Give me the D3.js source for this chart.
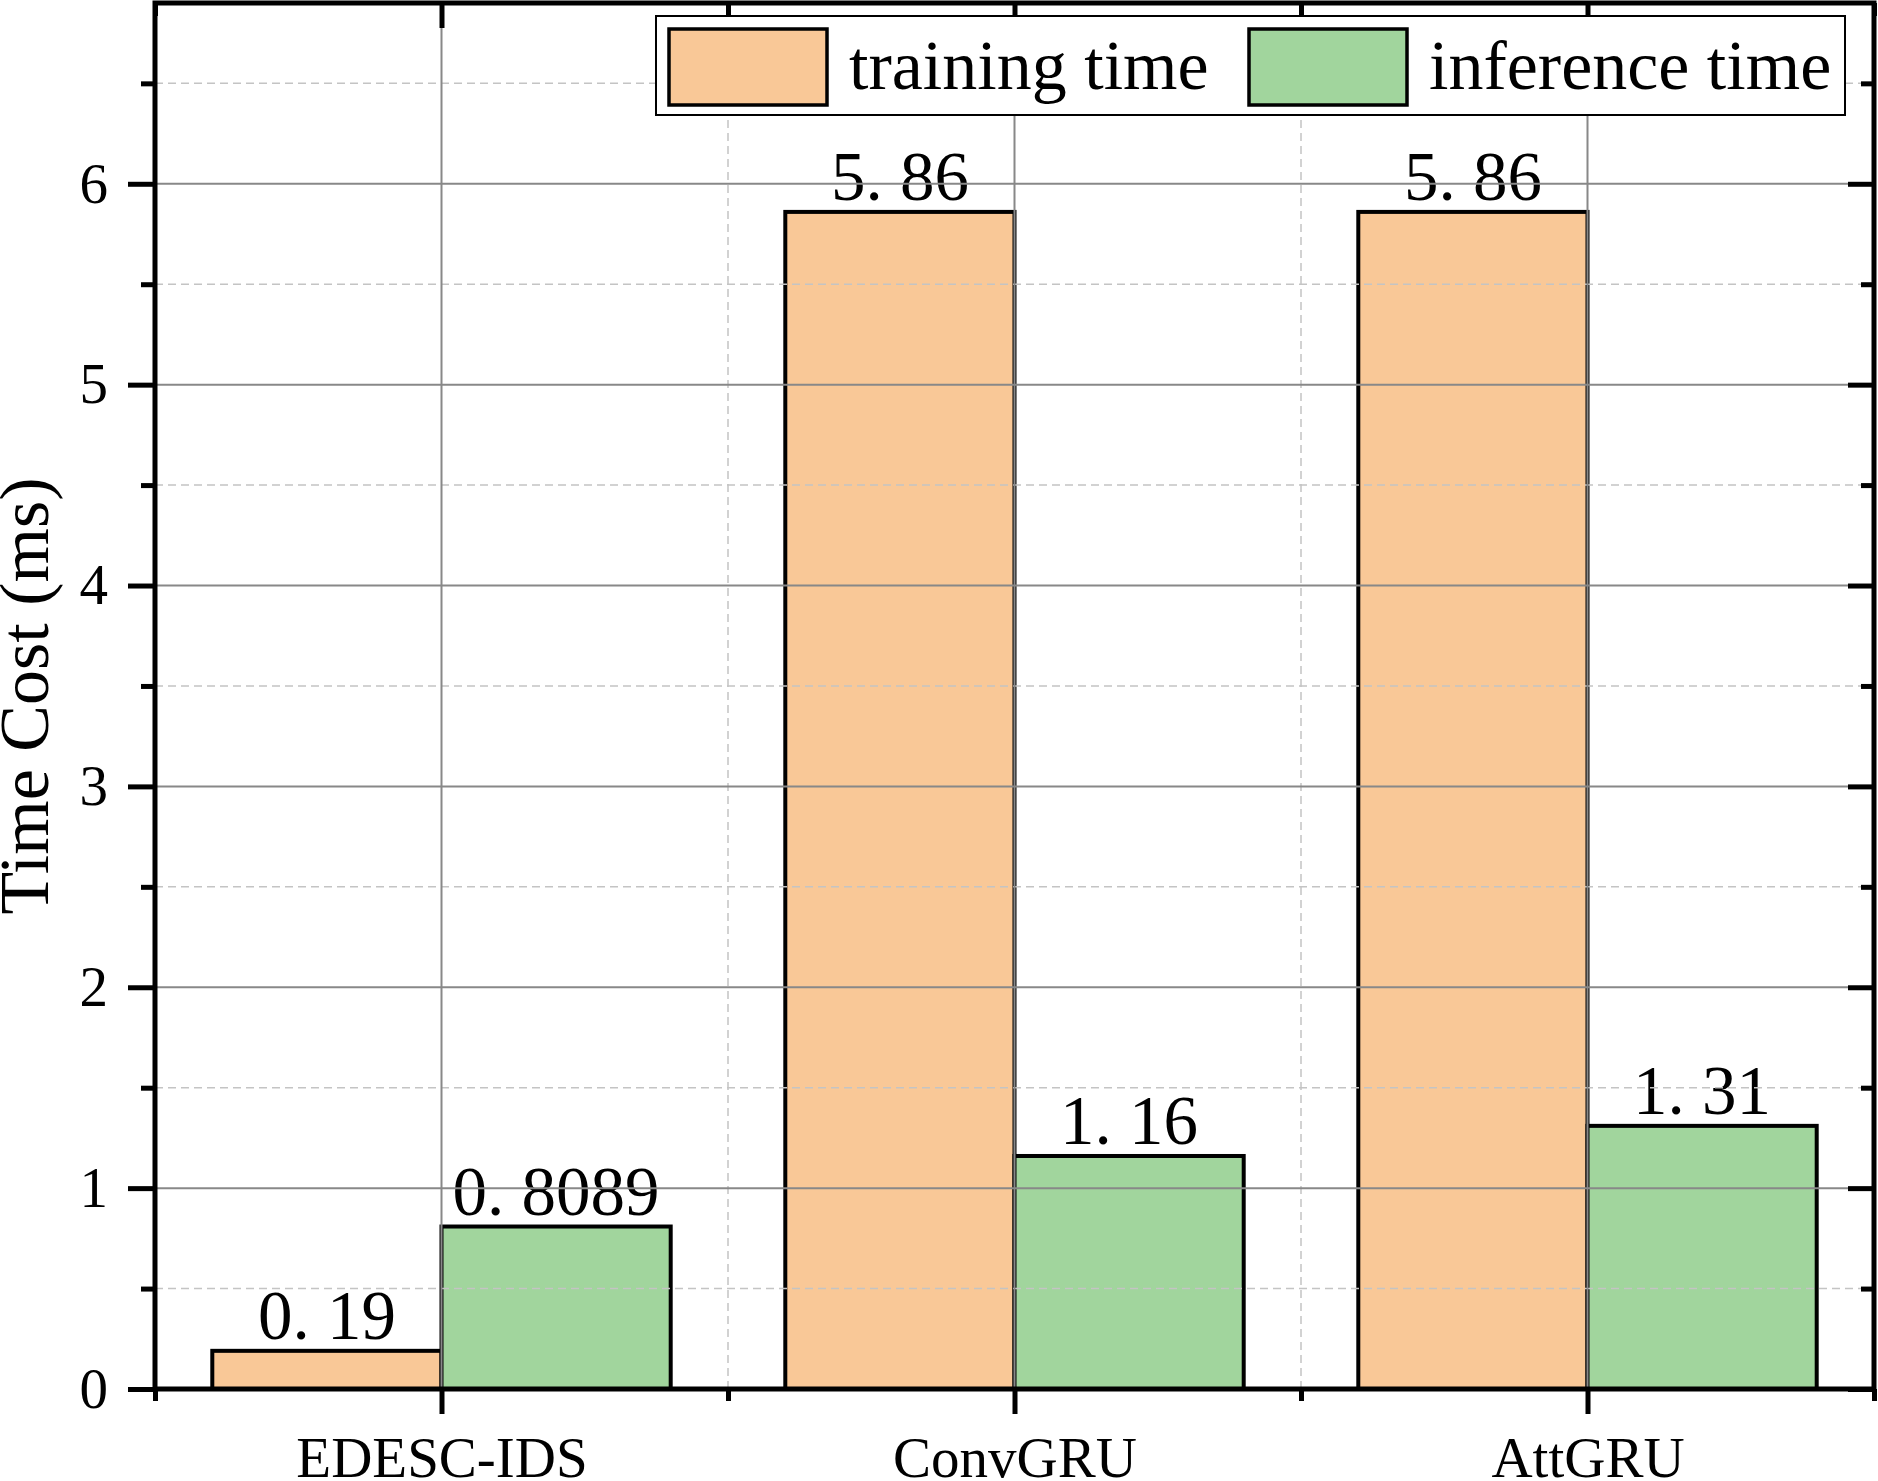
<!DOCTYPE html>
<html>
<head>
<meta charset="utf-8">
<script src="https://cdn.jsdelivr.net/npm/d3@7"></script>
<style>
  body { margin: 0; background: #fff; }
  text { font-family: "Liberation Serif", "Times New Roman", serif; fill: #000; }
</style>
</head>
<body>
<svg id="chart" width="1878" height="1481"></svg>
<script>
// values
var categories = ["EDESC-IDS", "ConvGRU", "AttGRU"];
var seriesNames = ["training time", "inference time"];
var trainingTime = [0.19, 5.86, 5.86];
var inferenceTime = [0.8089, 1.16, 1.31];
var trainingLabels = ["0. 19", "5. 86", "5. 86"];
var inferenceLabels = ["0. 8089", "1. 16", "1. 31"];
var yMajor = [0, 1, 2, 3, 4, 5, 6];
var yMinor = [0.5, 1.5, 2.5, 3.5, 4.5, 5.5, 6.5];
var xMajor = [1, 2, 3];
var xMinor = [0.5, 1.5, 2.5, 3.5];

var colors = ["#f9c897", "#a1d59d"];

var svg = d3.select("#chart");
svg.append("rect").attr("width", 1878).attr("height", 1481).attr("fill", "#fff");

// plot frame (note: "top" is a reserved window prop, so use plot* names)
var plotL = 155, plotR = 1874, plotT = 3, plotB = 1389;

var x = d3.scaleLinear().domain([0.5, 3.5]).range([plotL, plotR]);
var y = d3.scaleLinear().domain([0, 6.9]).range([plotB, plotT]);
var barW = 0.4;

// bars
var rows = categories.map(function(c, i){
    return {i: i + 1, vals: [trainingTime[i], inferenceTime[i]], labs: [trainingLabels[i], inferenceLabels[i]]};
});

var g = svg.append("g");
rows.forEach(function(r){
    r.vals.forEach(function(v, k){
        var x0 = k === 0 ? r.i - barW : r.i;
        g.append("rect")
            .attr("x", x(x0))
            .attr("y", y(v))
            .attr("width", x(x0 + barW) - x(x0))
            .attr("height", y(0) - y(v))
            .attr("fill", colors[k])
            .attr("stroke", "#000")
            .attr("stroke-width", 4);
        g.append("text")
            .attr("x", x(x0 + barW / 2))
            .attr("y", y(v) - 12)
            .attr("text-anchor", "middle")
            .attr("font-size", 69)
            .text(r.labs[k]);
    });
});

// grid drawn over the bars like the original
var grid = svg.append("g");
grid.selectAll(".hmin").data(yMinor).enter().append("line")
    .attr("x1", plotL).attr("x2", plotR)
    .attr("y1", function(d){ return y(d); }).attr("y2", function(d){ return y(d); })
    .attr("stroke", "#c4c4c4").attr("stroke-width", 1.5).attr("stroke-dasharray", "8,5");
grid.selectAll(".vmin").data([1.5, 2.5]).enter().append("line")
    .attr("y1", plotT).attr("y2", plotB)
    .attr("x1", function(d){ return x(d); }).attr("x2", function(d){ return x(d); })
    .attr("stroke", "#c4c4c4").attr("stroke-width", 1.5).attr("stroke-dasharray", "8,5");
grid.selectAll(".hmaj").data(yMajor.slice(1)).enter().append("line")
    .attr("x1", plotL).attr("x2", plotR)
    .attr("y1", function(d){ return y(d); }).attr("y2", function(d){ return y(d); })
    .attr("stroke", "#888").attr("stroke-width", 2);
grid.selectAll(".vmaj").data(xMajor).enter().append("line")
    .attr("y1", plotT).attr("y2", plotB)
    .attr("x1", function(d){ return x(d); }).attr("x2", function(d){ return x(d); })
    .attr("stroke", "#888").attr("stroke-width", 2);

// axes
function styleAxis(sel){
    sel.select(".domain").remove();
    sel.selectAll(".tick line").attr("stroke", "#000").attr("stroke-width", 5);
}

svg.append("g").attr("transform", "translate(" + plotL + ",0)")
    .call(d3.axisLeft(y).tickValues(yMajor).tickSize(27).tickPadding(20).tickFormat(d3.format("d")))
    .call(styleAxis)
    .selectAll("text").attr("font-size", 57).attr("font-family", "Liberation Serif");
svg.append("g").attr("transform", "translate(" + plotL + ",0)")
    .call(d3.axisLeft(y).tickValues(yMinor).tickSize(14).tickFormat(""))
    .call(styleAxis);

svg.append("g").attr("transform", "translate(" + plotR + ",0)")
    .call(d3.axisRight(y).tickValues(yMajor).tickSize(-26).tickFormat(""))
    .call(styleAxis);
svg.append("g").attr("transform", "translate(" + plotR + ",0)")
    .call(d3.axisRight(y).tickValues(yMinor).tickSize(-13).tickFormat(""))
    .call(styleAxis);

svg.append("g").attr("transform", "translate(0," + plotB + ")")
    .call(d3.axisBottom(x).tickValues(xMajor).tickSize(25).tickPadding(23)
        .tickFormat(function(d){ return categories[d - 1]; }))
    .call(styleAxis)
    .selectAll("text").attr("font-size", 57).attr("font-family", "Liberation Serif");
svg.append("g").attr("transform", "translate(0," + plotB + ")")
    .call(d3.axisBottom(x).tickValues(xMinor).tickSize(12).tickFormat(""))
    .call(styleAxis);

svg.append("g").attr("transform", "translate(0," + plotT + ")")
    .call(d3.axisTop(x).tickValues(xMajor).tickSize(-25).tickFormat(""))
    .call(styleAxis);
svg.append("g").attr("transform", "translate(0," + plotT + ")")
    .call(d3.axisTop(x).tickValues(xMinor).tickSize(-13).tickFormat(""))
    .call(styleAxis);

// frame
svg.append("rect")
    .attr("x", plotL).attr("y", plotT)
    .attr("width", plotR - plotL).attr("height", plotB - plotT)
    .attr("fill", "none").attr("stroke", "#000").attr("stroke-width", 5);

// y title
svg.append("text")
    .attr("transform", "translate(48," + ((plotT + plotB) / 2) + ") rotate(-90)")
    .attr("text-anchor", "middle")
    .attr("font-size", 70)
    .text("Time Cost (ms)");

// legend
var legend = svg.append("g");
legend.append("rect")
    .attr("x", 656).attr("y", 16).attr("width", 1189).attr("height", 99)
    .attr("fill", "#fff").attr("stroke", "#000").attr("stroke-width", 2);
var legendX = [669, 1249];
seriesNames.forEach(function(name, k){
    legend.append("rect")
        .attr("x", legendX[k]).attr("y", 29)
        .attr("width", 158).attr("height", 76)
        .attr("fill", colors[k]).attr("stroke", "#000").attr("stroke-width", 3.5);
    legend.append("text")
        .attr("x", legendX[k] + 180).attr("y", 89)
        .attr("font-size", 70)
        .text(name);
});
</script>
</body>
</html>
